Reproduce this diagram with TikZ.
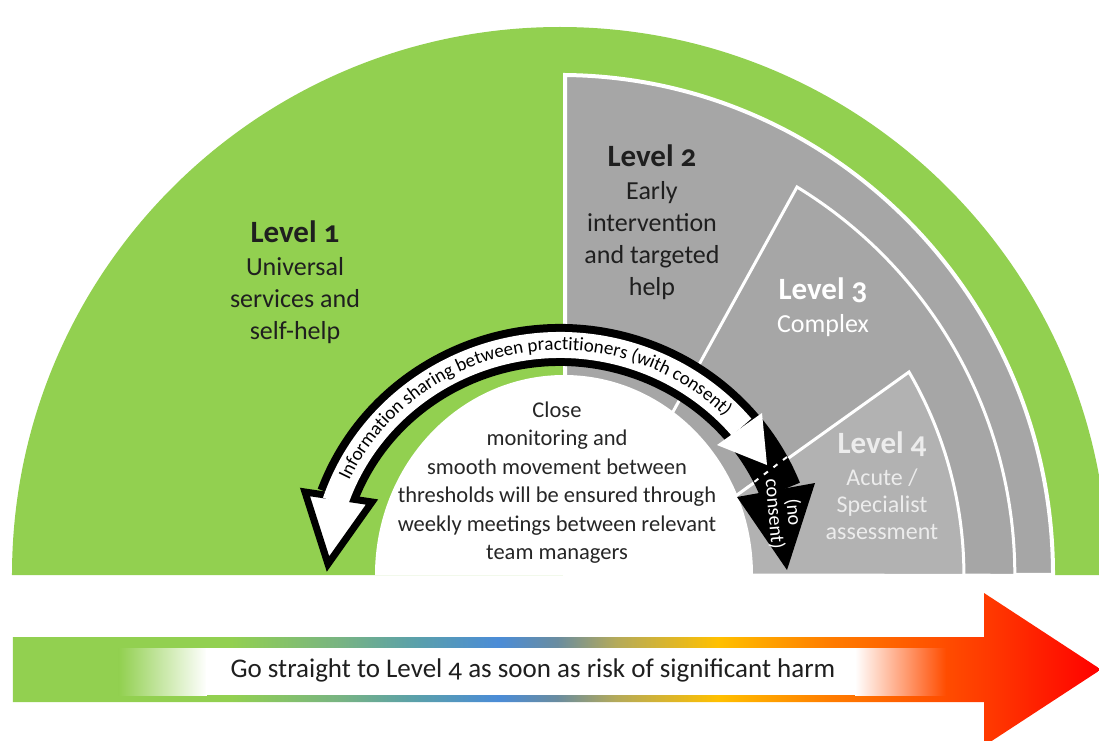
\documentclass[tikz,border=0pt]{standalone}
\usepackage{fontspec}
\setmainfont{Carlito}[Numbers=OldStyle]
\usetikzlibrary{decorations.text}

\definecolor{lvlgreen}{RGB}{146,208,80}
\definecolor{lvlgray}{RGB}{166,166,166}
\definecolor{lvlpale}{RGB}{178,178,178}
\definecolor{paletext}{RGB}{236,236,236}
\definecolor{barred}{RGB}{255,76,0}

\newcommand\headfont{\fontsize{31}{35}\selectfont\bfseries}
\newcommand\bodyfont{\fontsize{26}{32}\selectfont}
\newcommand\arcfont{\fontsize{19}{19}\selectfont}

\pgfdeclarehorizontalshading{riskbar}{100bp}{%
  rgb(0bp)=(0.573,0.816,0.314);%
  rgb(25bp)=(0.573,0.816,0.314);%
  rgb(35bp)=(0.573,0.816,0.314);%
  rgb(40bp)=(0.471,0.706,0.510);%
  rgb(43.5bp)=(0.353,0.627,0.667);%
  rgb(47.3bp)=(0.294,0.549,0.843);%
  rgb(50bp)=(0.412,0.549,0.627);%
  rgb(52.7bp)=(0.706,0.667,0.353);%
  rgb(57.4bp)=(1,0.753,0);%
  rgb(62.5bp)=(1,0.490,0);%
  rgb(67.5bp)=(1,0.314,0);%
  rgb(70bp)=(1,0.216,0);%
  rgb(75bp)=(1,0,0);%
  rgb(100bp)=(1,0,0)}

\begin{document}
\begin{tikzpicture}[
    x=1pt, y=1pt,
    band/.style={fill=lvlgray, draw=white, line width=3pt},
    lvltext/.style={align=center, inner sep=0pt, font=\bodyfont},
    noconsent/.style={align=center, inner sep=0pt, text=white, rotate=-85, font=\fontsize{20}{19}\selectfont}
]

\useasboundingbox (-560,-165) rectangle (539,575);
\fill[white] (-560,-165) rectangle (539,575);

\fill[lvlgreen] (-548,0) arc[start angle=180, end angle=0, radius=548] -- cycle;
\draw[band, line width=4pt] (5,0) -- (5,500) arc[start angle=89.42, end angle=0, x radius=493, y radius=500] -- cycle;
\draw[band] (77,98) -- (237,388) arc[start angle=58.58, end angle=0, radius=455] -- (77,0) -- cycle;
\draw[band, fill=lvlpale] (107,30) -- (349,203) arc[start angle=30.22, end angle=0, radius=404] -- (107,0) -- cycle;
\fill[white] (-185,0) arc[start angle=180, end angle=0, x radius=189, y radius=200] -- cycle;

\draw[line width=42pt] (160:237 and 230) arc[start angle=160, end angle=21.5, x radius=237, y radius=230];
\fill (177,78) -- (227,5) -- (255,92) -- cycle;
\filldraw[fill=white, line width=7pt] (-255,83) -- (-232,11) -- (-188,73) -- cycle;
\draw[white, line width=26pt] (161.5:237 and 230) arc[start angle=161.5, end angle=40, x radius=237, y radius=230];
\fill[white] (157,130) -- (207,110) -- (202,162) -- cycle;
\path[decorate, decoration={text along path, text align=center,
    text={|\arcfont|Information sharing between practitioners (with consent)}}]
    (157:232 and 225) arc[start angle=157, end angle=43, x radius=232, y radius=225];
\node[noconsent] (noconsent) at (224,62) {(no\\consent)};
\draw[white, line width=2pt, dash pattern=on 5pt off 7pt] (227,118) -- (177,80);

\node[lvltext, text=black!88] (lvl1) at (-265,292.5) {{\headfont Level 1}\\[1pt] Universal\\ services and\\ self-help};
\node[lvltext, text=black!88] (lvl2) at (92,352.5) {{\headfont Level 2}\\[1pt] Early\\ intervention\\ and targeted\\ help};
\node[lvltext, text=white] (lvl3) at (263,267.5) {{\headfont Level 3}\\[1pt] Complex};
\node[lvltext, text=paletext, font=\fontsize{24}{27}\selectfont] (lvl4) at (322,89) {{\headfont Level 4}\\[5pt] Acute /\\ Specialist\\ assessment};
\node[lvltext, text=black!85, font=\fontsize{22.5}{28.5}\selectfont] (close) at (-3,92.5) {Close\\ monitoring and\\ smooth movement between\\ thresholds will be ensured through\\ weekly meetings between relevant\\ team managers};

\shade[shading=riskbar] (-547,-62) -- (424,-62) -- (424,-18) -- (541,-94.5) -- (424,-171) -- (424,-127) -- (-547,-127) -- cycle;
\shade[left color=lvlgreen, right color=white] (-441,-73) rectangle (-353,-120);
\fill[white] (-353.5,-73) rectangle (295.5,-120);
\shade[left color=white, right color=barred] (295,-73) rectangle (386,-120);
\node[lvltext, text=black!88, font=\fontsize{27}{30}\selectfont] (gostraight) at (-27,-95) {Go straight to Level 4 as soon as risk of significant harm};

\end{tikzpicture}
\end{document}
